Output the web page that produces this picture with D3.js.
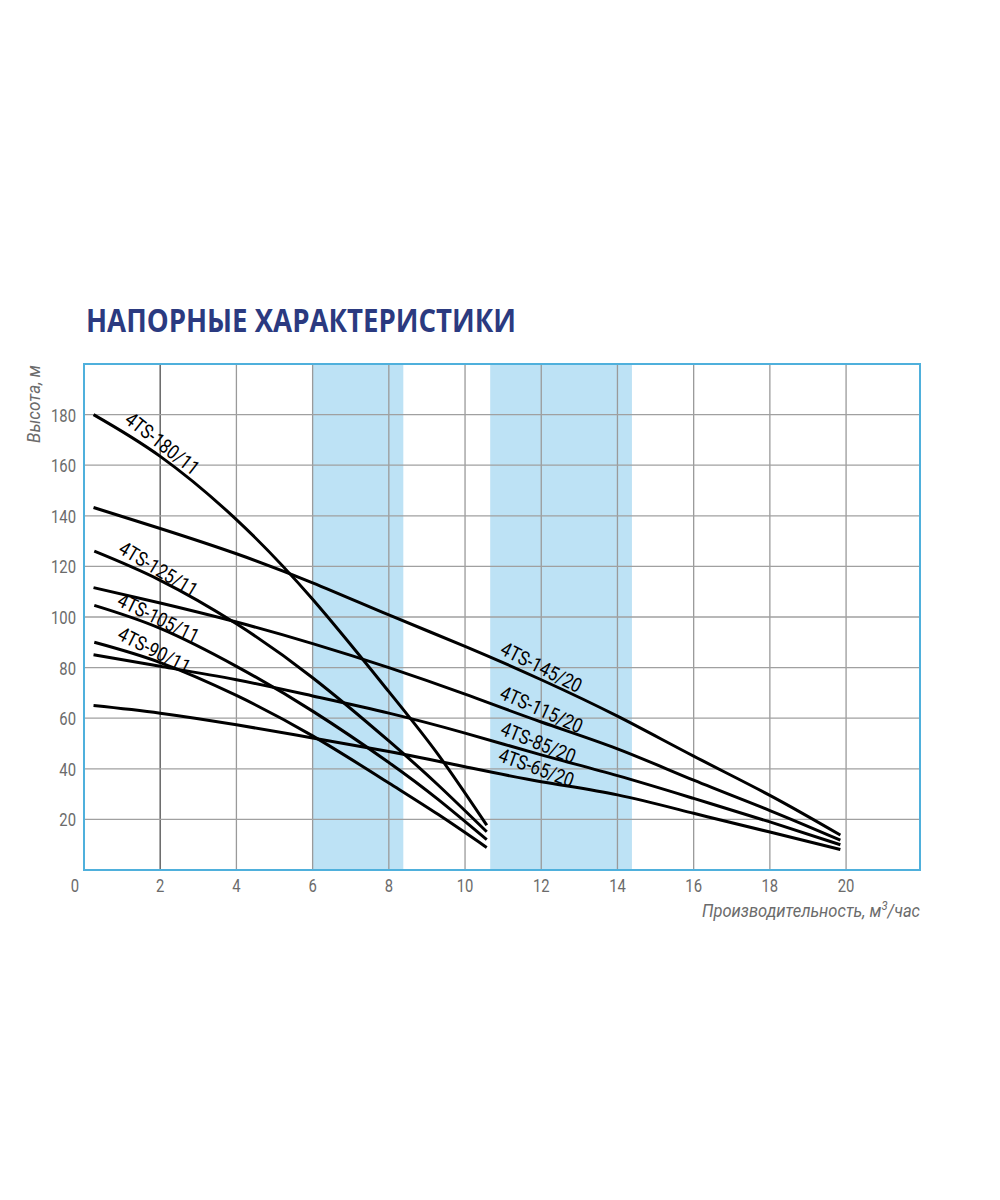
<!DOCTYPE html>
<html>
<head>
<meta charset="utf-8">
<script src="https://cdn.jsdelivr.net/npm/d3@7"></script>
<style>
  body { margin: 0; background: #fff; }
  svg { display: block; }
  .nar { font-family: "Roboto", "Liberation Sans", sans-serif; }
</style>
</head>
<body>
<svg id="chart" width="1000" height="1200"></svg>
<script>
// ---- data ----
const title = "НАПОРНЫЕ ХАРАКТЕРИСТИКИ";
const yTitle = "Высота, м";
const xTitleMain = "Производительность, м";
const xTitleSup = "3";
const xTitleEnd = "/час";
const xTicks = [2, 4, 6, 8, 10, 12, 14, 16, 18, 20];
const yTicks = [20, 40, 60, 80, 100, 120, 140, 160, 180];
const bands = [[6.0, 8.38], [10.66, 14.38]];

const names = ["4TS-180/11", "4TS-125/11", "4TS-105/11", "4TS-90/11",
               "4TS-145/20", "4TS-115/20", "4TS-85/20", "4TS-65/20"];
const q180_11 = [0.25, 2, 4, 6, 8, 9.3, 10.57];
const h180_11 = [180, 163.5, 138.5, 107, 70.5, 45.5, 17.7];
const q125_11 = [0.27, 2, 4, 6, 8, 9.3, 10.57];
const h125_11 = [126, 114.5, 97.3, 76, 51, 33.5, 15.1];
const q105_11 = [0.27, 2, 4, 6, 8, 9.3, 10.57];
const h105_11 = [104.6, 95.5, 80.5, 62.8, 42.5, 27.8, 12.0];
const q90_11 = [0.27, 2, 4, 6, 8, 9.3, 10.57];
const h90_11 = [90, 82, 69, 53, 34.4, 21.9, 8.9];
const q145_20 = [0.25, 2, 4, 6, 8, 10, 12, 14, 16, 18, 19.85];
const h145_20 = [143.3, 135, 125, 113.5, 100.8, 88.4, 75.2, 60.8, 45, 29.5, 13.8];
const q115_20 = [0.25, 2, 4, 6, 8, 10, 12, 14, 16, 18, 19.85];
const h115_20 = [111.6, 105.5, 98, 89.5, 80, 69.5, 58.5, 47.9, 35.5, 23.5, 11.8];
const q85_20 = [0.25, 2, 4, 6, 8, 10, 12, 14, 16, 18, 19.85];
const h85_20 = [85.1, 80.5, 75.2, 68.8, 62, 54.1, 45.5, 37.3, 28.3, 19, 10];
const q65_20 = [0.25, 2, 4, 6, 8, 10, 12, 14, 16, 18, 19.85];
const h65_20 = [65, 62, 57.4, 52.2, 46.8, 40.8, 34.9, 29.7, 22.4, 15, 8.1];

const seriesQ = [q180_11, q125_11, q105_11, q90_11, q145_20, q115_20, q85_20, q65_20];
const seriesH = [h180_11, h125_11, h105_11, h90_11, h145_20, h115_20, h85_20, h65_20];
// label anchor (data units) and rotation along curve
const labelQ = [2.05, 1.95, 1.95, 1.84, 12.0, 12.0, 11.92, 11.87];
const labelH = [168.4, 118.8, 99.4, 86.7, 80.0, 63.3, 50.2, 40.3];
const labelAngle = [38, 31, 26, 27, 27, 24, 22, 20];

// ---- layout ----
const svg = d3.select("#chart");
const L = 84, R = 920, T = 364, B = 870;
const x = d3.scaleLinear().domain([0, 21.94]).range([L, R]);
const y = d3.scaleLinear().domain([0, 200]).range([B, T]);
const GREY = "#6b6b6b";
const SX = 0.78; // horizontal condensing for the narrow typeface look

svg.append("text").attr("x", 86).attr("y", 332)
  .attr("font-family", "'Open Sans', 'Noto Sans', sans-serif")
  .attr("font-weight", 700).attr("font-size", 32)
  .attr("textLength", 430).attr("lengthAdjust", "spacingAndGlyphs")
  .attr("fill", "#2b3a80").text(title);

// bands
svg.selectAll("rect.band").data(bands).join("rect").attr("class", "band")
  .attr("x", d => x(d[0])).attr("width", d => x(d[1]) - x(d[0]))
  .attr("y", T).attr("height", B - T).attr("fill", "#bde2f5");

// grid
svg.selectAll("line.vg").data(xTicks).join("line").attr("class", "vg")
  .attr("x1", d => x(d)).attr("x2", d => x(d)).attr("y1", T).attr("y2", B)
  .attr("stroke", d => d === 2 ? "#6e6e6e" : "#9a9a9a").attr("stroke-width", d => d === 2 ? 1.6 : 1.3);
svg.selectAll("line.hg").data(yTicks).join("line").attr("class", "hg")
  .attr("x1", L).attr("x2", R).attr("y1", d => y(d)).attr("y2", d => y(d))
  .attr("stroke", "#a0a0a0").attr("stroke-width", 1.3);

// frame
svg.append("rect").attr("x", L).attr("y", T).attr("width", R - L).attr("height", B - T)
  .attr("fill", "none").attr("stroke", "#4fb0dc").attr("stroke-width", 2);

// tick labels
const tickFont = 19;
svg.selectAll("text.yt").data(yTicks).join("text").attr("class", "yt nar")
  .attr("transform", d => `translate(76,${y(d) + 7}) scale(${SX},1)`)
  .attr("text-anchor", "end")
  .attr("font-size", tickFont).attr("fill", GREY).text(d => d);
svg.selectAll("text.xt").data(xTicks).join("text").attr("class", "xt nar")
  .attr("transform", d => `translate(${x(d)},892) scale(${SX},1)`)
  .attr("text-anchor", "middle")
  .attr("font-size", tickFont).attr("fill", GREY).text(d => d);
svg.append("text").attr("class", "nar")
  .attr("transform", `translate(75,892) scale(${SX},1)`)
  .attr("text-anchor", "middle").attr("font-size", tickFont).attr("fill", GREY).text(0);

// axis titles
svg.append("text").attr("class", "nar")
  .attr("transform", `translate(40,404) rotate(-90) scale(0.9,1)`).attr("text-anchor", "middle")
  .attr("font-style", "italic").attr("font-size", 19).attr("fill", GREY).text(yTitle);
const xt = svg.append("text").attr("class", "nar")
  .attr("transform", `translate(920,917) scale(0.87,1)`).attr("text-anchor", "end")
  .attr("font-style", "italic").attr("font-size", 19).attr("fill", GREY);
xt.append("tspan").text(xTitleMain);
xt.append("tspan").attr("dy", -7).attr("font-size", 13).text(xTitleSup);
xt.append("tspan").attr("dy", 7).text(xTitleEnd);

// curves
const line = d3.line().x(d => x(d[0])).y(d => y(d[1])).curve(d3.curveNatural);
seriesQ.forEach((qs, i) => {
  const pts = qs.map((q, j) => [q, seriesH[i][j]]);
  svg.append("path").attr("d", line(pts)).attr("fill", "none")
    .attr("stroke", "#000").attr("stroke-width", 3);
});

// labels
names.forEach((n, i) => {
  svg.append("text").attr("class", "nar")
    .attr("transform", `translate(${x(labelQ[i])},${y(labelH[i])}) rotate(${labelAngle[i]}) scale(0.84,1)`)
    .attr("text-anchor", "middle").attr("dominant-baseline", "central")
    .attr("font-size", 20).attr("fill", "#000").text(n);
});
</script>
</body>
</html>
